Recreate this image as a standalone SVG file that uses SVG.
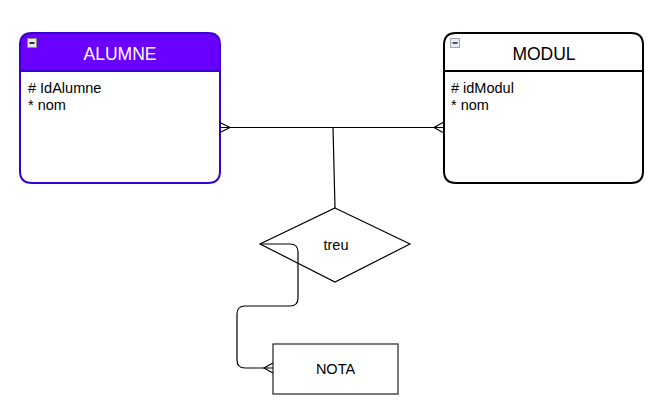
<svg xmlns="http://www.w3.org/2000/svg" width="658" height="417" viewBox="0 0 658 417">
<style>
text{font-family:"Liberation Sans",Arial,sans-serif}
.hdr{font-size:17.5px;text-anchor:middle}
.attr{font-size:14.5px;fill:#000}
.conn{fill:none;stroke:#000;stroke-width:1.2}
.icon{fill:#e8e8e8;stroke:#8a8a8a;stroke-width:1}
.bar{fill:#333}
</style>
<rect width="658" height="417" fill="#fff"/>
<g id="alumne">
<path d="M32,33 H208 Q220,33 220,45 V71 H20 V45 Q20,33 32,33 Z" fill="#6a00ff"/>
<path d="M32,33 H208 Q220,33 220,45 V171 Q220,183 208,183 H32 Q20,183 20,171 V45 Q20,33 32,33 Z" fill="none" stroke="#3700cc" stroke-width="2"/>
<line x1="20" y1="71" x2="220" y2="71" stroke="#3700cc" stroke-width="2"/>
<rect class="icon" x="27.5" y="38.5" width="9" height="9"/>
<rect class="bar" x="29.5" y="42" width="5" height="2"/>
<text class="hdr" x="120" y="60" fill="#fff">ALUMNE</text>
<text class="attr" x="28" y="93">#<tspan dx="4">IdAlumne</tspan></text>
<text class="attr" x="28" y="110">* nom</text>
</g>
<g id="modul">
<path d="M456,33 H631 Q643,33 643,45 V171 Q643,183 631,183 H456 Q444,183 444,171 V45 Q444,33 456,33 Z" fill="#fff" stroke="#000" stroke-width="2"/>
<line x1="444" y1="71" x2="643" y2="71" stroke="#000" stroke-width="2"/>
<rect class="icon" x="450.5" y="38.5" width="9" height="9" style="stroke:#9aa8b8;fill:#e6ecf2"/>
<rect class="bar" x="452.5" y="42" width="5" height="2" style="fill:#555"/>
<text class="hdr" x="544" y="60" fill="#000">MODUL</text>
<text class="attr" x="451" y="93">#<tspan dx="4">idModul</tspan></text>
<text class="attr" x="451" y="110">* nom</text>
</g>
<g id="treu">
<polygon points="335,208 410,244 335,282 260,244" fill="#fff" stroke="#000" stroke-width="1.2"/>
<text x="336" y="250" font-size="14.5" text-anchor="middle">treu</text>
</g>
<g id="nota">
<rect x="273" y="344" width="125" height="50" fill="#fff" stroke="#333" stroke-width="1.3"/>
<text x="335.5" y="374" font-size="14.5" text-anchor="middle">NOTA</text>
</g>
<g id="connectors">
<path class="conn" d="M220,127.5 L443,127.5"/>
<path d="M220,122.5 L230,127.5 L220,132.5" fill="none" stroke="#000" stroke-width="1.2"/>
<path d="M443,122.5 L434,127.5 L443,132.5" fill="none" stroke="#000" stroke-width="1.2"/>
<path class="conn" d="M333,127.5 L335,208"/>
<path class="conn" stroke="#222" d="M260,244 L290,244 Q298,244 298,252 L298,298 Q298,306 290,306 L245,306 Q237,306 237,314 L237,360 Q237,368 245,368 L273,368"/>
<path d="M273,363 L264,368 L273,373" fill="none" stroke="#000" stroke-width="1.2"/>
</g>
</svg>
